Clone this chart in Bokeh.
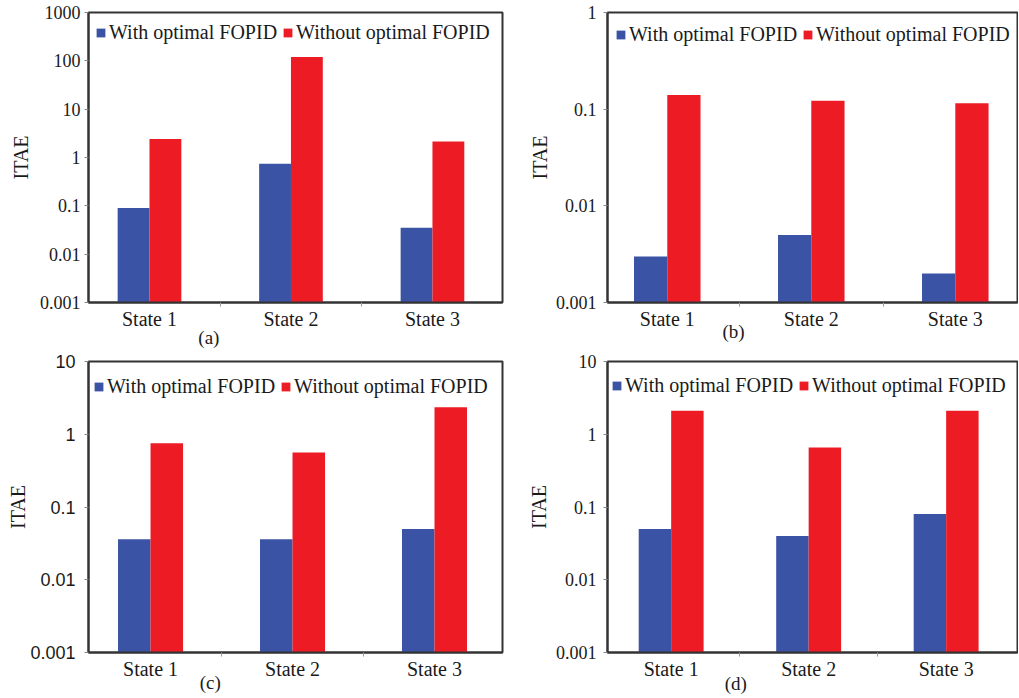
import numpy as np
from bokeh.plotting import figure
from bokeh.layouts import column, row
from bokeh.models import Range1d, FixedTicker, LinearAxis
from bokeh.embed import file_html
from bokeh.resources import INLINE

categories = ["State 1", "State 2", "State 3"]
series_names = ["With optimal FOPID", "Without optimal FOPID"]
series_colors = ["#3A53A4", "#ED1C24"]

# panel (a)
a_with = [0.09, 0.74, 0.035]
a_without = [2.4, 120, 2.15]
a_ticks = [0.001, 0.01, 0.1, 1, 10, 100, 1000]
a_tick_labels = ["0.001", "0.01", "0.1", "1", "10", "100", "1000"]

# panel (b)
b_with = [0.003, 0.005, 0.002]
b_without = [0.14, 0.122, 0.115]
b_ticks = [0.001, 0.01, 0.1, 1]
b_tick_labels = ["0.001", "0.01", "0.1", "1"]

# panel (c)
c_with = [0.036, 0.036, 0.05]
c_without = [0.75, 0.56, 2.35]
c_ticks = [0.001, 0.01, 0.1, 1, 10]
c_tick_labels = ["0.001", "0.01", "0.1", "1", "10"]

# panel (d)
d_with = [0.05, 0.04, 0.08]
d_without = [2.1, 0.66, 2.1]
d_ticks = [0.001, 0.01, 0.1, 1, 10]
d_tick_labels = ["0.001", "0.01", "0.1", "1", "10"]

SERIF = "Liberation Serif"
SANS = "Liberation Sans"
DARK = "#1a1a1a"


def make_panel(with_vals, without_vals, ticks, tick_labels, caption,
               fw, fh, bl, br, bt, bb, xr, bar_w, legend_xy,
               ytick_font=SERIF, ylab_standoff=6, ytick_standoff=4,
               xtick_standoff=1, cap_x=1.45, cap_standoff=-4):
    p = figure(frame_width=fw, frame_height=fh, y_axis_type="log",
               x_range=Range1d(*xr), y_range=Range1d(ticks[0], ticks[-1]),
               output_backend="svg", toolbar_location=None, title_location=None)
    p.min_border_left = bl
    p.min_border_right = br
    p.min_border_top = bt
    p.min_border_bottom = bb
    p.background_fill_color = "white"
    p.border_fill_color = "white"
    p.outline_line_color = "#333333"
    p.outline_line_width = 2
    p.grid.visible = False

    xc = np.arange(1, len(categories) + 1, dtype=float)
    for k, (vals, name, col) in enumerate(zip([with_vals, without_vals], series_names, series_colors)):
        offs = (-0.5 if k == 0 else 0.5) * bar_w
        p.vbar(x=xc + offs, top=vals, bottom=ticks[0], width=bar_w,
               fill_color=col, line_color=None, legend_label=name)

    # x axis with category names
    xa = p.xaxis[0]
    xa.ticker = FixedTicker(ticks=list(xc), minor_ticks=list(xc[:-1] + 0.5))
    xa.major_label_overrides = {float(x): c for x, c in zip(xc, categories)}
    xa.major_tick_line_color = None
    xa.major_tick_out = 0
    xa.major_tick_in = 0
    xa.minor_tick_line_color = "#999999"
    xa.minor_tick_out = 4
    xa.minor_tick_in = 0
    xa.axis_line_color = "#333333"
    xa.axis_line_width = 2
    xa.major_label_text_font = SERIF
    xa.major_label_text_font_size = "20px"
    xa.major_label_text_color = DARK
    xa.major_label_standoff = xtick_standoff

    # caption axis "(a)" etc.
    cap = LinearAxis(ticker=FixedTicker(ticks=[cap_x], minor_ticks=[]),
                     major_label_overrides={float(cap_x): caption})
    cap.axis_line_color = None
    cap.major_tick_line_color = None
    cap.minor_tick_line_color = None
    cap.major_tick_out = 0
    cap.major_tick_in = 0
    cap.minor_tick_out = 0
    cap.major_label_standoff = cap_standoff
    cap.major_label_text_font = SERIF
    cap.major_label_text_font_size = "19px"
    cap.major_label_text_color = DARK
    p.add_layout(cap, "below")

    # y axis
    ya = p.yaxis[0]
    ya.ticker = FixedTicker(ticks=ticks, minor_ticks=[])
    ya.major_label_overrides = {float(t): l for t, l in zip(ticks, tick_labels)}
    ya.major_tick_line_color = "#888888"
    ya.major_tick_out = 4
    ya.major_tick_in = 0
    ya.minor_tick_line_color = None
    ya.axis_line_color = "#333333"
    ya.axis_line_width = 2
    ya.major_label_text_font = ytick_font
    ya.major_label_text_font_size = "18px"
    ya.major_label_text_color = DARK
    ya.major_label_standoff = ytick_standoff
    ya.axis_label = "ITAE"
    ya.axis_label_text_font = SERIF
    ya.axis_label_text_font_size = "20px"
    ya.axis_label_text_font_style = "normal"
    ya.axis_label_text_color = DARK
    ya.axis_label_standoff = ylab_standoff

    lg = p.legend[0]
    lg.orientation = "horizontal"
    lg.location = legend_xy
    lg.border_line_color = None
    lg.background_fill_alpha = 0
    lg.padding = 0
    lg.margin = 0
    lg.spacing = 5
    lg.glyph_width = 11
    lg.glyph_height = 11
    lg.label_standoff = 3
    lg.label_height = 24
    lg.label_text_font = SERIF
    lg.label_text_font_size = "20px"
    lg.label_text_color = DARK
    return p


# top row: frames y 12..302 ; bottom row: frames y 361..652
pa = make_panel(a_with, a_without, a_ticks, a_tick_labels, "(a)",
                414, 290, 88, 16, 12, 48, (0.569, 3.495), 0.225, (7, 258),
                ylab_standoff=5, ytick_standoff=4, xtick_standoff=1,
                cap_x=1.42, cap_standoff=-6)
pb = make_panel(b_with, b_without, b_ticks, b_tick_labels, "(b)",
                410, 290, 89, 1, 12, 48, (0.585, 3.432), 0.231, (8, 256),
                ylab_standoff=2, ytick_standoff=7, xtick_standoff=1,
                cap_x=1.46, cap_standoff=-12)
pc = make_panel(c_with, c_without, c_ticks, c_tick_labels, "(c)",
                414, 291, 88, 16, 11, 44, (0.563, 3.479), 0.229, (5, 254),
                ytick_font=SANS, ylab_standoff=-2, ytick_standoff=9, xtick_standoff=1,
                cap_x=1.42, cap_standoff=-11)
pd_ = make_panel(d_with, d_without, d_ticks, d_tick_labels, "(d)",
                 410, 291, 89, 1, 11, 44, (0.537, 3.519), 0.236, (4, 255),
                 ylab_standoff=3, ytick_standoff=7, xtick_standoff=1,
                 cap_x=1.47, cap_standoff=-10)

layout = column(row(pa, pb), row(pc, pd_))
open("out.html", "w").write(file_html(layout, INLINE))
